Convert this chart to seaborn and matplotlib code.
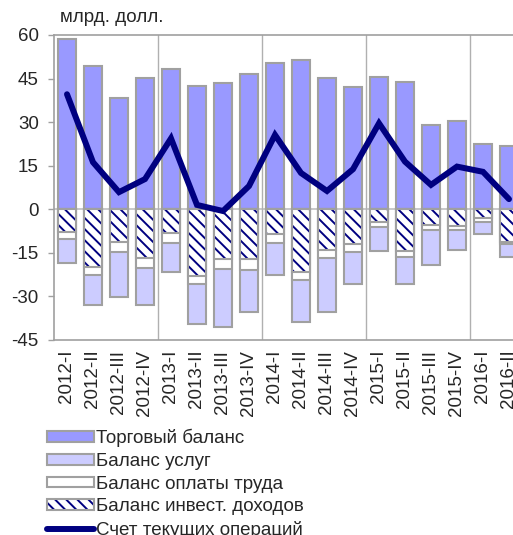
import numpy as np
import matplotlib
matplotlib.use("Agg")
import matplotlib.pyplot as plt
import seaborn as sns
from matplotlib.patches import Patch
from matplotlib.lines import Line2D
from matplotlib.legend_handler import HandlerTuple

# Data (billion USD)
quarters = ["2012-I", "2012-II", "2012-III", "2012-IV",
            "2013-I", "2013-II", "2013-III", "2013-IV",
            "2014-I", "2014-II", "2014-III", "2014-IV",
            "2015-I", "2015-II", "2015-III", "2015-IV",
            "2016-I", "2016-II"]
trade = [58.6, 49.2, 38.2, 45.3, 48.3, 42.4, 43.4, 46.5,
         50.5, 51.4, 45.2, 42.0, 45.4, 43.8, 29.0, 30.4, 22.5, 21.8]
invest = [-7.7, -20.0, -11.1, -16.6, -8.3, -23.0, -17.2, -17.2,
          -8.6, -21.5, -14.1, -11.9, -4.3, -14.4, -5.4, -5.6, -3.1, -11.1]
labor = [-2.4, -2.6, -3.5, -3.7, -3.2, -2.7, -3.5, -3.7,
         -3.1, -2.8, -2.8, -2.8, -1.9, -1.9, -1.7, -1.5, -1.2, -1.0]
services = [-8.5, -10.3, -15.5, -12.6, -10.2, -13.8, -19.7, -14.3,
            -11.0, -14.4, -18.5, -11.1, -8.2, -9.5, -12.1, -6.9, -4.2, -4.2]
current = [39.6, 16.2, 5.9, 10.4, 24.4, 1.5, -0.6, 8.0,
           25.6, 12.5, 6.3, 13.8, 29.6, 16.4, 8.4, 14.7, 12.9, 3.5]

labels = ["Торговый баланс", "Баланс услуг", "Баланс оплаты труда",
          "Баланс инвест. доходов", "Счет текущих операций"]

sns.set_style("white")
plt.rcParams['font.family'] = ['Liberation Sans', 'DejaVu Sans']
plt.rcParams['hatch.linewidth'] = 1.4
plt.rcParams['axes.unicode_minus'] = False

c_trade = "#9999FF"
c_serv = "#CCCCFF"
c_edge = "#A0A0A0"
c_navy = "#000080"
hatch = "\\\\\\"
fs = 13.5

fig = plt.figure(figsize=(5.13, 5.35), dpi=100)
ax = fig.add_axes([54 / 513, 1 - 340 / 535, 468 / 513, 305 / 535])

# stacked negative parts drawn as overlapping cumulative bars
lvl_inv = np.array(invest)
lvl_lab = lvl_inv + np.array(labor)
lvl_srv = lvl_lab + np.array(services)

bw = 0.68
lw = 1.5
sns.barplot(x=quarters, y=trade, color=c_trade, saturation=1, width=bw,
            edgecolor=c_edge, linewidth=lw, ax=ax, zorder=2)
sns.barplot(x=quarters, y=lvl_srv, color=c_serv, saturation=1, width=bw,
            edgecolor=c_edge, linewidth=lw, ax=ax, zorder=2)
sns.barplot(x=quarters, y=lvl_lab, color="white", saturation=1, width=bw,
            edgecolor=c_edge, linewidth=lw, ax=ax, zorder=2)
sns.barplot(x=quarters, y=lvl_inv, color="white", saturation=1, width=bw,
            edgecolor=c_navy, linewidth=0, hatch=hatch, ax=ax, zorder=2)
sns.barplot(x=quarters, y=lvl_inv, facecolor="none", width=bw,
            edgecolor=c_edge, linewidth=lw, ax=ax, zorder=2)

sns.lineplot(x=np.arange(len(quarters)), y=current, color=c_navy, linewidth=4.3,
             ax=ax, zorder=4, solid_joinstyle="miter")

ax.axhline(0, color="#C0C0C0", linewidth=1.2, zorder=1)
for xb in [3.5, 7.5, 11.5, 15.5]:
    ax.axvline(xb, color="#B0B0B0", linewidth=1.0, zorder=1)

ax.set_ylim(-45, 60)
ax.set_yticks(np.arange(-45, 61, 15))
ax.set_xlim(-0.5, len(quarters) - 0.5)
ax.set_xlabel("")
ax.set_ylabel("")
ax.tick_params(axis="y", length=4, width=1, color=c_edge, pad=7, labelsize=fs, direction="out", left=True)
ax.tick_params(axis="x", length=0, pad=7, labelsize=fs, labelrotation=90)
for s in ["left", "bottom", "top"]:
    ax.spines[s].set_color(c_edge)
    ax.spines[s].set_linewidth(1.2)
ax.spines["right"].set_visible(False)

fig.text(60 / 513, 1 - 18 / 535, "млрд. долл.", fontsize=fs, va="center", ha="left")

h_inv = (Patch(facecolor="white", edgecolor=c_navy, linewidth=0, hatch=hatch),
         Patch(facecolor="none", edgecolor=c_edge, linewidth=lw))
handles = [Patch(facecolor=c_trade, edgecolor=c_edge, linewidth=lw),
           Patch(facecolor=c_serv, edgecolor=c_edge, linewidth=lw),
           Patch(facecolor="white", edgecolor=c_edge, linewidth=lw),
           h_inv,
           Line2D([0], [0], color=c_navy, linewidth=4.3)]
fig.legend(handles, labels, loc="upper left", bbox_to_anchor=(47 / 513, 1 - 429 / 535),
           frameon=False, fontsize=fs, handlelength=2.5, handleheight=0.5,
           handletextpad=0.1, labelspacing=0.3, borderpad=0, borderaxespad=0,
           handler_map={tuple: HandlerTuple(ndivide=1, pad=0)})

fig.savefig("out.png", dpi=100)
